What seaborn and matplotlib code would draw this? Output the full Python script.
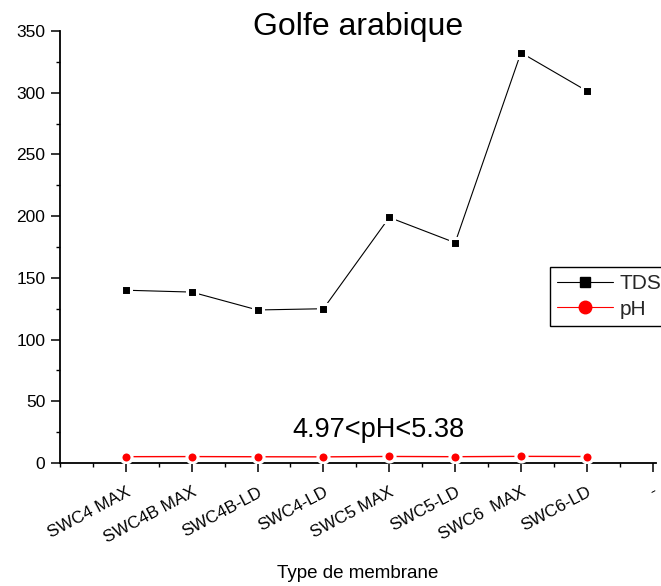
import matplotlib
matplotlib.use("Agg")
import matplotlib.pyplot as plt
import seaborn as sns
import pandas as pd
from matplotlib.lines import Line2D
from matplotlib.ticker import MultipleLocator

# Membrane types and measured values
membranes = ["SWC4 MAX", "SWC4B MAX", "SWC4B-LD", "SWC4-LD",
             "SWC5 MAX", "SWC5-LD", "SWC6  MAX", "SWC6-LD"]
tick_labels = membranes + ["-"]
tds = [140.0, 138.5, 124.0, 125.0, 199.0, 178.5, 332.5, 301.5]
ph = [5.12, 5.20, 5.05, 4.97, 5.30, 5.10, 5.38, 5.25]
positions = list(range(1, len(membranes) + 1))

df = pd.DataFrame({"pos": positions, "membrane": membranes, "TDS": tds, "pH": ph})

sns.set_style("ticks")
plt.rcParams["font.family"] = ["Liberation Sans", "DejaVu Sans"]

fig = plt.figure(figsize=(6.61, 5.86), dpi=100)
ax = fig.add_axes([0.0908, 0.2099, 0.9016, 0.7371])

sns.lineplot(data=df, x="pos", y="TDS", ax=ax, color="black", linewidth=0.8,
             marker="s", markersize=7.2, markerfacecolor="black",
             markeredgecolor="white", markeredgewidth=2.2, zorder=3)
sns.lineplot(data=df, x="pos", y="pH", ax=ax, color="red", linewidth=1.0,
             marker="o", markersize=8.0, markerfacecolor="red",
             markeredgecolor="white", markeredgewidth=2.2, zorder=3)

ax.set_xlim(0, 9.05)
ax.set_ylim(0, 350)
ax.set_xticks(range(1, len(tick_labels) + 1))
ax.set_xticklabels(tick_labels, rotation=28, ha="right", rotation_mode="anchor")
ax.xaxis.set_minor_locator(MultipleLocator(0.5))
ax.yaxis.set_major_locator(MultipleLocator(50))
ax.yaxis.set_minor_locator(MultipleLocator(25))

ax.tick_params(axis="both", which="major", direction="out", length=6.5,
               width=1.1, color="black", labelcolor="black")
ax.tick_params(axis="both", which="minor", direction="out", length=3,
               width=1.0, color="black")
ax.tick_params(axis="y", which="major", labelsize=12.5, pad=4)
ax.tick_params(axis="x", which="major", labelsize=12.3, pad=9)

sns.despine(ax=ax)
for side in ("left", "bottom"):
    ax.spines[side].set_color("black")
    ax.spines[side].set_linewidth(1.3)

ax.set_xlabel("Type de membrane", fontsize=13.5, labelpad=14, color="black")
ax.set_ylabel("")
ax.set_title("Golfe arabique", fontsize=23, pad=0, color="black", y=0.99)

ax.text(4.83, 21, "4.97<pH<5.38", fontsize=19.5, ha="center", va="baseline",
        color="black")

handles = [
    Line2D([], [], color="black", linewidth=0.8, marker="s", markersize=7,
           markerfacecolor="black", markeredgecolor="black"),
    Line2D([], [], color="red", linewidth=0.8, marker="o", markersize=9,
           markerfacecolor="red", markeredgecolor="red"),
]
leg = fig.legend(handles, ["TDS", "pH"], loc="upper left",
                 bbox_to_anchor=(0.832, 0.5444), fontsize=15,
                 frameon=True, fancybox=False, edgecolor="black",
                 framealpha=1.0, handlelength=2.7, handletextpad=0.3,
                 borderpad=0.35, labelspacing=0.3, borderaxespad=0)
leg.get_frame().set_linewidth(1.0)

fig.savefig("out.png", dpi=100)
